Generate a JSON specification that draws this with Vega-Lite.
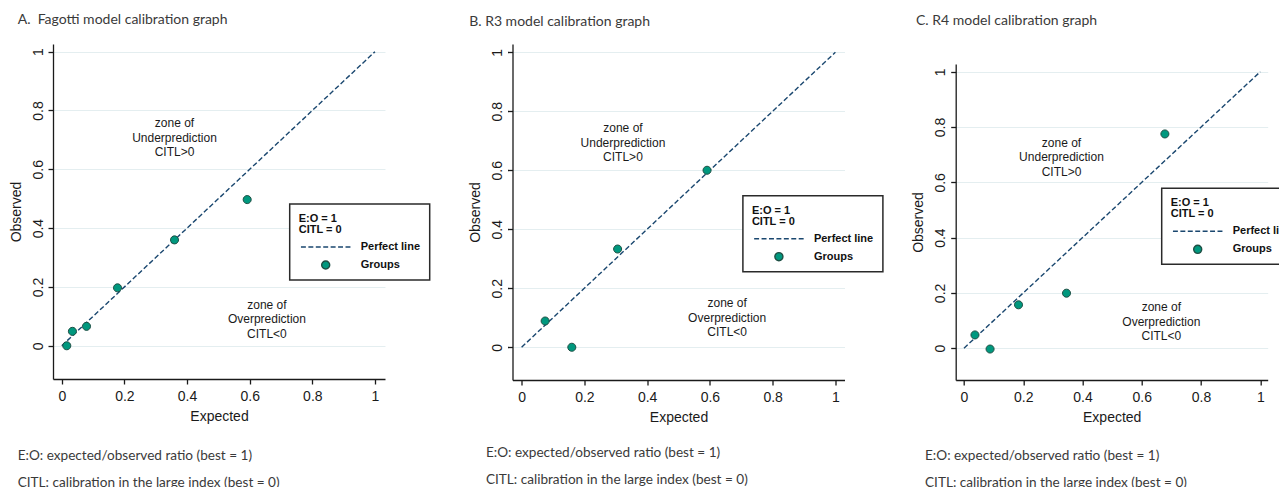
{
  "$schema": "https://vega.github.io/schema/vega-lite/v6.json",
  "background": "white",
  "padding": {"left": 9, "top": 13, "right": 0, "bottom": 0},
  "spacing": 37.5,
  "resolve": {"scale": {"fill": "independent", "stroke": "independent", "shape": "independent"}, "legend": {"fill": "independent", "stroke": "independent", "shape": "independent"}},
  "hconcat": [
    {
      "title": {"text": ["E:O: expected/observed ratio (best = 1)", "CITL: calibration in the large index (best = 0)"], "orient": "bottom", "anchor": "start", "frame": "group", "dx": -35.3, "offset": 26, "lineHeight": 27, "fontSize": 13.6},
      "resolve": {"scale": {"fill": "independent", "stroke": "independent", "shape": "independent"}, "legend": {"fill": "independent", "stroke": "independent", "shape": "independent"}},
      "vconcat": [
        {
          "width": 332, "height": 335,
          "title": {"text": "A.\u00a0 Fagotti model calibration graph", "anchor": "start", "frame": "group", "dx": -35.3, "offset": 17},
          "encoding": {
            "x": {"field": "expected", "type": "quantitative", "scale": {"domain": [-0.028, 1.032], "nice": false, "zero": false}, "axis": {"title": "Expected", "values": [0, 0.2, 0.4, 0.6, 0.8, 1], "format": "~g"}},
            "y": {"field": "observed", "type": "quantitative", "scale": {"domain": [-0.113, 1.026], "nice": false, "zero": false}, "axis": {"title": "Observed", "values": [0, 0.2, 0.4, 0.6, 0.8, 1], "format": "~g", "grid": true}}
          },
          "layer": [
            {"data": {"values": [{"expected": 0, "observed": 0}, {"expected": 1, "observed": 1}]}, "mark": {"type": "line", "color": "#1a476f", "strokeDash": [5, 2.5], "strokeWidth": 1.4}},
            {"data": {"values": [
              {"expected": 0.016, "observed": 0.0, "series": "Groups"},
              {"expected": 0.034, "observed": 0.049, "series": "Groups"},
              {"expected": 0.079, "observed": 0.066, "series": "Groups"},
              {"expected": 0.178, "observed": 0.197, "series": "Groups"},
              {"expected": 0.36, "observed": 0.36, "series": "Groups"},
              {"expected": 0.592, "observed": 0.497, "series": "Groups"}
            ]},
             "mark": {"type": "point", "filled": true, "size": 2704, "strokeWidth": 1, "opacity": 1},
             "encoding": {
               "fill": {"field": "series", "type": "nominal", "scale": {"domain": ["Perfect line", "Groups"], "range": ["transparent", "#00987e"]}, "legend": {"title": ["E:O = 1", "CITL = 0"], "legendX": 236.7, "legendY": 160}},
               "stroke": {"field": "series", "type": "nominal", "scale": {"domain": ["Perfect line", "Groups"], "range": ["#1a476f", "#1d4f44"]}, "legend": {"title": ["E:O = 1", "CITL = 0"], "legendX": 236.7, "legendY": 160}},
               "shape": {"field": "series", "type": "nominal", "scale": {"domain": ["Perfect line", "Groups"], "range": ["M-0.952,0H-0.762M-0.667,0H-0.476M-0.381,0H-0.19M-0.095,0H0.095M0.19,0H0.381M0.476,0H0.667M0.762,0H0.952", "M-0.155,0A0.155,0.155 0 1,0 0.155,0A0.155,0.155 0 1,0 -0.155,0Z"]}, "legend": {"title": ["E:O = 1", "CITL = 0"], "legendX": 236.7, "legendY": 160}}
             }},
            {"data": {"values": [
              {"expected": 0.36, "observed": 0.756, "label": "zone of\nUnderprediction\nCITL>0"},
              {"expected": 0.655, "observed": 0.14, "label": "zone of\nOverprediction\nCITL<0"}
            ]},
             "mark": {"type": "text", "lineBreak": "\n", "font": "Liberation Sans", "fontSize": 12, "lineHeight": 14.5, "color": "#1a1a1a", "align": "center", "baseline": "middle"},
             "encoding": {"text": {"field": "label"}}}
          ]
        }
      ]
    },
    {
      "spacing": 27.2,
      "resolve": {"scale": {"fill": "independent", "stroke": "independent", "shape": "independent"}, "legend": {"fill": "independent", "stroke": "independent", "shape": "independent"}},
      "hconcat": [
        {
          "title": {"text": ["E:O: expected/observed ratio (best = 1)", "CITL: calibration in the large index (best = 0)"], "orient": "bottom", "anchor": "start", "frame": "group", "dx": -26.6, "offset": 21.5, "lineHeight": 27, "fontSize": 13.6},
          "resolve": {"scale": {"fill": "independent", "stroke": "independent", "shape": "independent"}, "legend": {"fill": "independent", "stroke": "independent", "shape": "independent"}},
          "vconcat": [
            {
              "width": 332, "height": 336,
              "title": {"text": "B. R3 model calibration graph", "anchor": "start", "frame": "group", "dx": -43.3, "offset": 15.5},
              "encoding": {
                "x": {"field": "expected", "type": "quantitative", "scale": {"domain": [-0.029, 1.029], "nice": false, "zero": false}, "axis": {"title": "Expected", "values": [0, 0.2, 0.4, 0.6, 0.8, 1], "format": "~g"}},
                "y": {"field": "observed", "type": "quantitative", "scale": {"domain": [-0.111, 1.028], "nice": false, "zero": false}, "axis": {"title": "Observed", "values": [0, 0.2, 0.4, 0.6, 0.8, 1], "format": "~g", "grid": true}}
              },
              "layer": [
                {"data": {"values": [{"expected": 0, "observed": 0}, {"expected": 1, "observed": 1}]}, "mark": {"type": "line", "color": "#1a476f", "strokeDash": [5, 2.5], "strokeWidth": 1.4}},
                {"data": {"values": [
                  {"expected": 0.075, "observed": 0.089, "series": "Groups"},
                  {"expected": 0.16, "observed": 0.0, "series": "Groups"},
                  {"expected": 0.306, "observed": 0.333, "series": "Groups"},
                  {"expected": 0.591, "observed": 0.6, "series": "Groups"}
                ]},
                 "mark": {"type": "point", "filled": true, "size": 2704, "strokeWidth": 1, "opacity": 1},
                 "encoding": {
                   "fill": {"field": "series", "type": "nominal", "scale": {"domain": ["Perfect line", "Groups"], "range": ["transparent", "#00987e"]}, "legend": {"title": ["E:O = 1", "CITL = 0"], "legendX": 230.4, "legendY": 151.7}},
                   "stroke": {"field": "series", "type": "nominal", "scale": {"domain": ["Perfect line", "Groups"], "range": ["#1a476f", "#1d4f44"]}, "legend": {"title": ["E:O = 1", "CITL = 0"], "legendX": 230.4, "legendY": 151.7}},
                   "shape": {"field": "series", "type": "nominal", "scale": {"domain": ["Perfect line", "Groups"], "range": ["M-0.952,0H-0.762M-0.667,0H-0.476M-0.381,0H-0.19M-0.095,0H0.095M0.19,0H0.381M0.476,0H0.667M0.762,0H0.952", "M-0.155,0A0.155,0.155 0 1,0 0.155,0A0.155,0.155 0 1,0 -0.155,0Z"]}, "legend": {"title": ["E:O = 1", "CITL = 0"], "legendX": 230.4, "legendY": 151.7}}
                 }},
                {"data": {"values": [
                  {"expected": 0.323, "observed": 0.742, "label": "zone of\nUnderprediction\nCITL>0"},
                  {"expected": 0.655, "observed": 0.149, "label": "zone of\nOverprediction\nCITL<0"}
                ]},
                 "mark": {"type": "text", "lineBreak": "\n", "font": "Liberation Sans", "fontSize": 12, "lineHeight": 14.5, "color": "#1a1a1a", "align": "center", "baseline": "middle"},
                 "encoding": {"text": {"field": "label"}}}
              ]
            }
          ]
        },
        {
          "title": {"text": ["E:O: expected/observed ratio (best = 1)", "CITL: calibration in the large index (best = 0)"], "orient": "bottom", "anchor": "start", "frame": "group", "dx": -30.7, "offset": 25, "lineHeight": 27, "fontSize": 13.6},
          "bounds": "flush",
          "spacing": 19,
          "resolve": {"scale": {"fill": "independent", "stroke": "independent", "shape": "independent"}, "legend": {"fill": "independent", "stroke": "independent", "shape": "independent"}},
          "vconcat": [
            {"width": 312, "height": 1, "data": {"values": []}, "mark": "point", "encoding": {}},
            {
              "width": 312, "height": 316,
              "title": {"text": "C. R4 model calibration graph", "anchor": "start", "frame": "group", "dx": -39.7, "offset": 36},
              "encoding": {
                "x": {"field": "expected", "type": "quantitative", "scale": {"domain": [-0.028, 1.025], "nice": false, "zero": false}, "axis": {"title": "Expected", "values": [0, 0.2, 0.4, 0.6, 0.8, 1], "format": "~g"}},
                "y": {"field": "observed", "type": "quantitative", "scale": {"domain": [-0.115, 1.028], "nice": false, "zero": false}, "axis": {"title": "Observed", "values": [0, 0.2, 0.4, 0.6, 0.8, 1], "format": "~g", "grid": true}}
              },
              "layer": [
                {"data": {"values": [{"expected": 0, "observed": 0}, {"expected": 1, "observed": 1}]}, "mark": {"type": "line", "color": "#1a476f", "strokeDash": [5, 2.5], "strokeWidth": 1.4}},
                {"data": {"values": [
                  {"expected": 0.037, "observed": 0.048, "series": "Groups"},
                  {"expected": 0.088, "observed": -0.003, "series": "Groups"},
                  {"expected": 0.184, "observed": 0.157, "series": "Groups"},
                  {"expected": 0.346, "observed": 0.199, "series": "Groups"},
                  {"expected": 0.678, "observed": 0.775, "series": "Groups"}
                ]},
                 "mark": {"type": "point", "filled": true, "size": 2704, "strokeWidth": 1, "opacity": 1},
                 "encoding": {
                   "fill": {"field": "series", "type": "nominal", "scale": {"domain": ["Perfect line", "Groups"], "range": ["transparent", "#00987e"]}, "legend": {"title": ["E:O = 1", "CITL = 0"], "legendX": 206, "legendY": 124.3}},
                   "stroke": {"field": "series", "type": "nominal", "scale": {"domain": ["Perfect line", "Groups"], "range": ["#1a476f", "#1d4f44"]}, "legend": {"title": ["E:O = 1", "CITL = 0"], "legendX": 206, "legendY": 124.3}},
                   "shape": {"field": "series", "type": "nominal", "scale": {"domain": ["Perfect line", "Groups"], "range": ["M-0.952,0H-0.762M-0.667,0H-0.476M-0.381,0H-0.19M-0.095,0H0.095M0.19,0H0.381M0.476,0H0.667M0.762,0H0.952", "M-0.155,0A0.155,0.155 0 1,0 0.155,0A0.155,0.155 0 1,0 -0.155,0Z"]}, "legend": {"title": ["E:O = 1", "CITL = 0"], "legendX": 206, "legendY": 124.3}}
                 }},
                {"data": {"values": [
                  {"expected": 0.329, "observed": 0.744, "label": "zone of\nUnderprediction\nCITL>0"},
                  {"expected": 0.666, "observed": 0.148, "label": "zone of\nOverprediction\nCITL<0"}
                ]},
                 "mark": {"type": "text", "lineBreak": "\n", "font": "Liberation Sans", "fontSize": 12, "lineHeight": 14.5, "color": "#1a1a1a", "align": "center", "baseline": "middle"},
                 "encoding": {"text": {"field": "label"}}}
              ]
            }
          ]
        }
      ]
    }
  ],
  "config": {
    "view": {"stroke": null},
    "axis": {"domainColor": "#1a1a1a", "domainWidth": 1.3, "tickColor": "#1a1a1a", "tickWidth": 1.3, "tickSize": 5, "labelFont": "Liberation Sans", "labelFontSize": 14, "labelColor": "#1a1a1a", "labelFlush": false, "titleFont": "Liberation Sans", "titleFontSize": 14, "titleFontWeight": "normal", "titleColor": "#1a1a1a", "gridColor": "#e4eef0", "gridWidth": 1},
    "axisX": {"grid": false, "labelPadding": 5, "titlePadding": 6},
    "axisY": {"labelAngle": -90, "labelAlign": "center", "labelBaseline": "bottom", "labelPadding": 3, "titlePadding": 8},
    "legend": {"orient": "none", "strokeColor": "#2a2a2a", "strokeWidth": 1.5, "fillColor": "white", "padding": 9, "cornerRadius": 0,
      "titleFont": "Liberation Sans", "titleFontSize": 11, "titleFontWeight": "bold", "titleColor": "#111111", "titleLineHeight": 11, "titlePadding": 6,
      "labelFont": "Liberation Sans", "labelFontSize": 11, "labelFontWeight": "bold", "labelColor": "#111111", "labelOffset": 8,
      "symbolSize": 2704, "symbolStrokeWidth": 1.4, "clipHeight": 12, "rowPadding": 6},
    "title": {"font": "Lato", "fontSize": 14, "fontWeight": "normal", "color": "#3a3a3a"}
  }
}
